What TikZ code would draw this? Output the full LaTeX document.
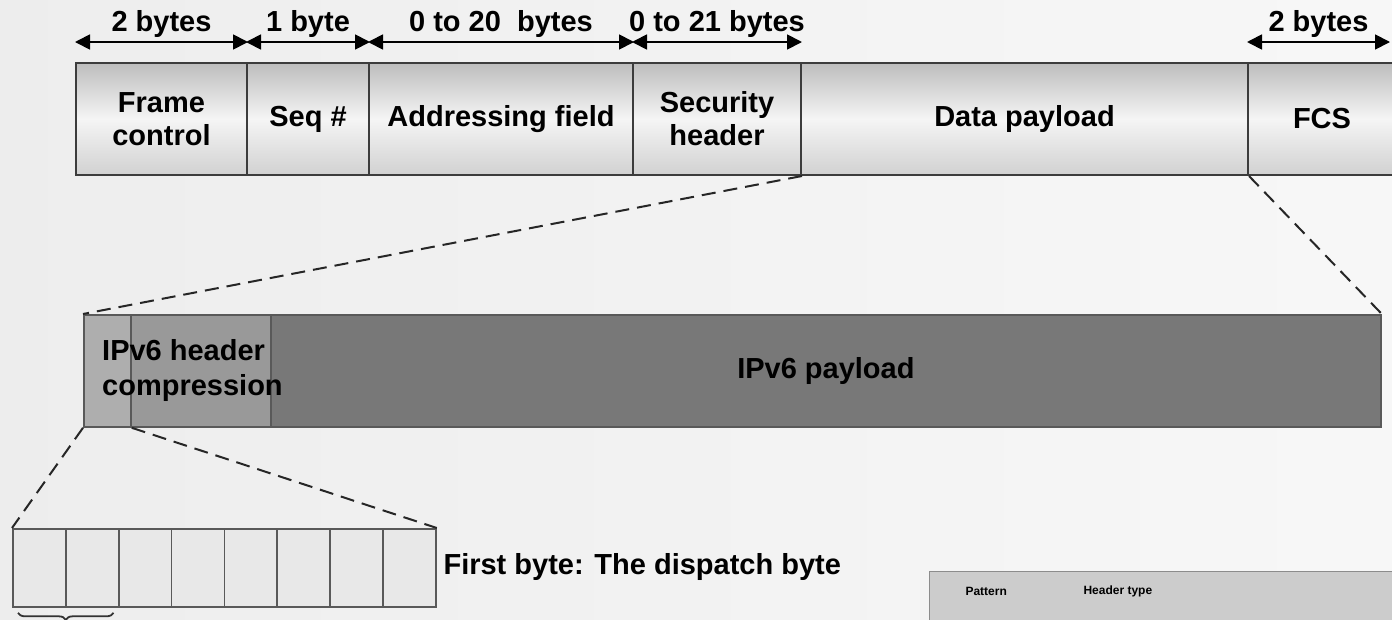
\documentclass[tikz,border=0pt]{standalone}
\usepackage{fontspec}
\setmainfont{Liberation Sans}
\usetikzlibrary{arrows.meta,decorations.pathreplacing,calc}
\definecolor{edge}{HTML}{3C3C3C}
\definecolor{ipA}{HTML}{AEAEAE}
\definecolor{ipB}{HTML}{999999}
\definecolor{ipC}{HTML}{787878}
\definecolor{cell}{HTML}{E8E8E8}
\definecolor{tbl}{HTML}{CCCCCC}
\tikzset{
  big/.style={font=\bfseries\fontsize{29}{33}\selectfont},
  field/.style={draw=edge, line width=2pt, anchor=north west, inner sep=0pt,
    top color=black!26, bottom color=black!18, middle color=black!4,
    align=center, big, minimum height=112pt},
  ipseg/.style={draw=black!65, line width=1.8pt, anchor=north west, inner sep=0pt, minimum height=112pt},
  bytecell/.style={draw=black!65, line width=1.8pt, fill=cell, anchor=north west, inner sep=0pt,
    minimum width=52.875pt, minimum height=78pt},
  dim/.style={line width=1.8pt, {Triangle[length=15pt,width=15pt]}-{Triangle[length=15pt,width=15pt]}},
  dimlabel/.style={big, anchor=base},
  zoomline/.style={dash pattern=on 14pt off 8pt, line width=2pt, black!85},
  lbl/.style={font=\bfseries\fontsize{29}{35}\selectfont, align=left}
}
\begin{document}
\begin{tikzpicture}[x=1pt,y=-1pt]
\useasboundingbox (0,0) rectangle (1392,619);
\fill[left color=black!7, right color=black!3] (0,0) rectangle (1392,619);

% MAC frame fields
\node[field, minimum width=171pt] (fc) at (75,62) {Frame\\control};
\node[field, minimum width=122pt] (seq) at (246,62) {Seq \#};
\node[field, minimum width=264pt] (addr) at (368,62) {Addressing field};
\node[field, minimum width=168pt] (sec) at (632,62) {Security\\header};
\node[field, minimum width=447pt] (data) at (800,62) {Data payload};
\node[field, minimum width=148pt] (fcs) at (1247,62) {FCS};

% field sizes
\draw[dim] ([yshift=20pt]fc.north west) -- ([yshift=20pt]fc.north east)
  node[dimlabel, midway, yshift=11pt] (l1) {2 bytes};
\draw[dim] ([yshift=20pt]seq.north west) -- ([yshift=20pt]seq.north east)
  node[dimlabel, midway, yshift=11pt] (l2) {1 byte};
\draw[dim] ([yshift=20pt]addr.north west) -- ([yshift=20pt]addr.north east)
  node[dimlabel, midway, yshift=11pt] (l3) {0 to 20~~bytes};
\draw[dim] ([yshift=20pt]sec.north west) -- ([yshift=20pt]sec.north east)
  node[dimlabel, midway, yshift=11pt] (l4) {0 to 21 bytes};
\coordinate (fcsend) at (1390,42);
\draw[dim] ([yshift=20pt]fcs.north west) -- (fcsend)
  node[dimlabel, midway, yshift=11pt] (l5) {2 bytes};

% IPv6 packet inside the payload
\node[ipseg, fill=ipA, minimum width=47pt] (hc1) at (83,314) {};
\node[ipseg, fill=ipB, minimum width=140pt] (hc2) at (130,314) {};
\node[ipseg, fill=ipC, minimum width=1110pt] (pay) at (270,314) {};
\node[lbl, anchor=north west, inner sep=0pt] (hctext) at (102,339) {IPv6 header\\compression};
\node[big] (paytext) at (pay.center) {IPv6 payload};

\draw[zoomline] (sec.south east) -- (hc1.north west);
\draw[zoomline] (data.south east) -- (pay.north east);

% dispatch byte bits
\node[bytecell] (b1) at (12,528) {};
\foreach \i [count=\j from 1] in {2,...,8}{
  \node[bytecell] (b\i) at ($(12,528)+(\j*52.875,0)$) {};
}
\draw[zoomline] (hc1.south west) -- (b1.north west);
\draw[zoomline] (hc1.south east) -- (b8.north east);
\node[big, anchor=west] (first) at (440,567) {First byte: The dispatch byte};

\draw[decorate, decoration={brace, amplitude=7pt, mirror}, line width=1.8pt, black!80]
  ([xshift=6pt, yshift=-5pt]b1.south west) -- ([xshift=-6pt, yshift=-5pt]b2.south east);

% header type table
\node[draw=black!45, line width=1pt, fill=tbl, anchor=north west, minimum width=470pt,
  minimum height=60pt, inner sep=0pt] (table) at (929,571) {};
\node[font=\bfseries\fontsize{12}{14}\selectfont, anchor=west] (pat) at (962,591) {Pattern};
\node[font=\bfseries\fontsize{12}{14}\selectfont, anchor=west] (htype) at (1080,591) {Header type};
\end{tikzpicture}
\end{document}
